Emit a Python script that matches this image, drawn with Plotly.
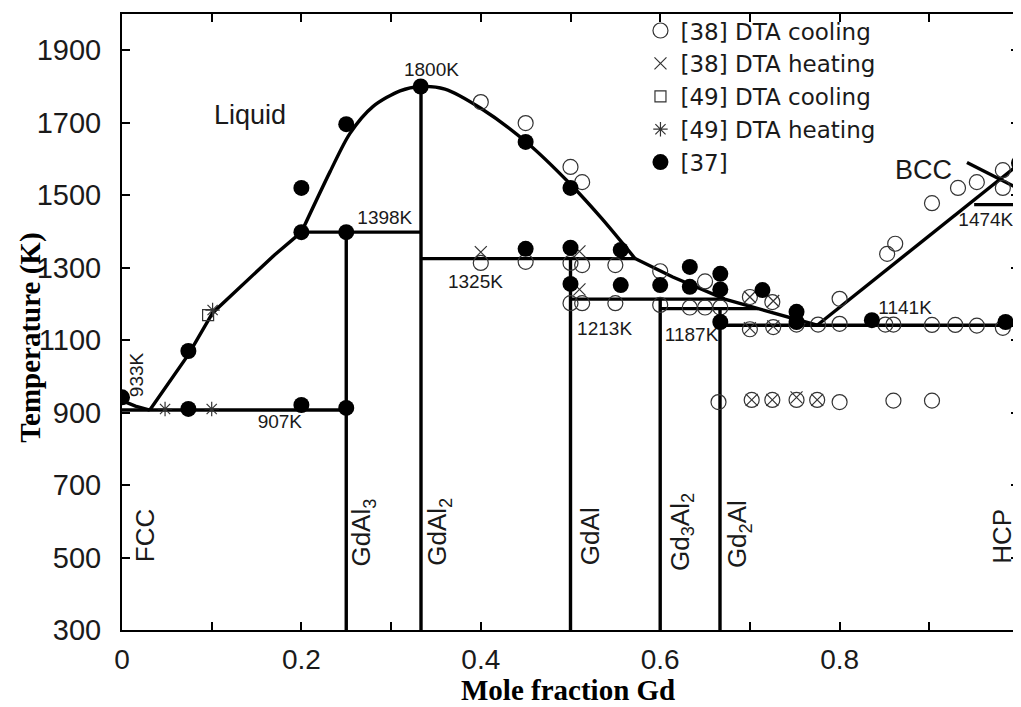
import plotly.graph_objects as go

# ---------------- phase boundary data (mole fraction Gd, temperature K) ----------------
FCC_LIQ_X = [0.0, 0.015, 0.031]
FCC_LIQ_T = [933, 918, 907]
LIQ_A_X = [0.031, 0.074, 0.101, 0.143, 0.17, 0.2]
LIQ_A_T = [907, 1060, 1175, 1272, 1335, 1398]
LIQ_B_X = [0.2, 0.232, 0.254, 0.28, 0.31, 0.333, 0.36, 0.4, 0.45, 0.5, 0.535, 0.572]
LIQ_B_T = [1398, 1565, 1670, 1745, 1788, 1800, 1793, 1740, 1648, 1530, 1435, 1325]
LIQ_C_X = [0.572, 0.614, 0.672, 0.709, 0.775]
LIQ_C_T = [1325, 1274, 1213, 1187, 1141]
LIQ_BCC_X = [0.775, 1.0]
LIQ_BCC_T = [1141, 1586]
BCC_SOL_X = [0.942, 0.998]
BCC_SOL_T = [1590, 1520]
HCP_X = [0.9965, 0.9965, 0.998, 1.0, 1.0]
HCP_T = [1586, 1141, 900, 650, 300]

# invariant (horizontal) lines
INV_T = [907, 1398, 1325, 1213, 1187, 1141, 1474]
INV_X0 = [0.0, 0.2, 0.333, 0.5, 0.6, 0.667, 0.95]
INV_X1 = [0.25, 0.333, 0.572, 0.672, 0.709, 0.997, 0.997]

# stoichiometric compounds (vertical lines)
CMP_X = [0.25, 1 / 3, 0.5, 0.6, 2 / 3]
CMP_TOP = [1398, 1800, 1325, 1213, 1187]
T_MIN = 300

# ---------------- experimental data ----------------
# [38] DTA cooling
C38_X = [0.4, 0.45, 0.5, 0.513,
         0.4, 0.45, 0.5, 0.513, 0.55, 0.6, 0.65,
         0.5, 0.513, 0.55, 0.6,
         0.633, 0.65, 0.667,
         0.7, 0.725,
         0.7, 0.726, 0.752, 0.776, 0.8, 0.851, 0.86, 0.903, 0.929, 0.953, 0.982,
         0.8, 0.853, 0.862, 0.903, 0.932, 0.953, 0.982, 0.982,
         0.665, 0.702, 0.725, 0.752, 0.775, 0.8, 0.86, 0.903]
C38_T = [1757, 1699, 1578, 1536,
         1313, 1316, 1313, 1307, 1307, 1290, 1262,
         1202, 1202, 1202, 1197,
         1190, 1190, 1190,
         1219, 1205,
         1130, 1136, 1143, 1143, 1145, 1143, 1143, 1142, 1142, 1140, 1134,
         1214, 1338, 1366, 1478, 1520, 1536, 1569, 1520,
         929, 935, 935, 935, 935, 929, 933, 933]
# [38] DTA heating
H38_X = [0.4, 0.51, 0.51, 0.7, 0.726, 0.7, 0.726, 0.702, 0.725, 0.752, 0.775]
H38_T = [1343, 1345, 1240, 1219, 1208, 1133, 1138, 935, 935, 942, 935]
# [49] DTA cooling
C49_X = [0.096]
C49_T = [1169]
# [49] DTA heating
H49_X = [0.101, 0.048, 0.1]
H49_T = [1183, 910, 910]
# [37]
D37_X = [0.0, 0.074, 0.074, 0.2, 0.2, 0.2, 0.25, 0.25, 0.25, 0.333, 0.45, 0.45, 0.5, 0.5,
         0.5, 0.556, 0.556, 0.6, 0.633, 0.633, 0.667, 0.667, 0.667, 0.714, 0.752, 0.752,
         0.836, 0.985, 1.0]
D37_T = [942, 1070, 910, 1520, 1398, 921, 1696, 1398, 913, 1800, 1647, 1352, 1520, 1355,
         1255, 1349, 1252, 1252, 1302, 1247, 1283, 1240, 1150, 1238, 1178, 1150,
         1155, 1150, 1589]

# ---------------- labels ----------------
# horizontal temperature labels (drawn beneath the phase lines)
TLBL_TEXT = ["1800K", "1398K", "1325K", "1213K", "1187K", "1141K", "1474K", "907K"]
TLBL_X = [0.345, 0.293, 0.394, 0.538, 0.635, 0.873, 0.963, 0.176]
TLBL_T = [1843, 1433, 1257, 1128, 1112, 1185, 1429, 871]
TLBL_SIZE = 19
# other labels (annotations)
LBL_TEXT = ["Liquid", "933K", "BCC", "FCC", "GdAl<sub>3</sub>", "GdAl<sub>2</sub>", "GdAl",
            "Gd<sub>3</sub>Al<sub>2</sub>", "Gd<sub>2</sub>Al", "HCP"]
LBL_X = [0.143, 0.017, 0.893, 0.025, 0.268, 0.353, 0.521, 0.623, 0.688, 0.981]
LBL_T = [1721, 1004, 1569, 560, 570, 570, 560, 570, 565, 560]
LBL_ANGLE = [0, -90, 0, -90, -90, -90, -90, -90, -90, -90]
LBL_SIZE = [27, 19, 27, 26, 26, 26, 26, 26, 26, 26]

X_TICKS = [0, 0.2, 0.4, 0.6, 0.8, 1.0]
X_TICKTEXT = ["0", "0.2", "0.4", "0.6", "0.8", "1"]
Y_TICKS = [300, 500, 700, 900, 1100, 1300, 1500, 1700, 1900]

SANS = "Liberation Sans, Arial, sans-serif"
SERIF = "Liberation Serif, Times New Roman, serif"
TXT_COL = "#1a1a1a"

fig = go.Figure()

fig.add_trace(go.Scatter(x=TLBL_X, y=TLBL_T, text=TLBL_TEXT, mode="text",
                         textfont=dict(family=SANS, size=TLBL_SIZE, color=TXT_COL),
                         showlegend=False, hoverinfo="skip", cliponaxis=False))

# straight phase boundaries combined with None separators
lx, ly = [], []
for xs, ts in [(FCC_LIQ_X, FCC_LIQ_T), (LIQ_A_X, LIQ_A_T), (LIQ_C_X, LIQ_C_T),
               (LIQ_BCC_X, LIQ_BCC_T), (BCC_SOL_X, BCC_SOL_T), (HCP_X, HCP_T)]:
    lx += list(xs) + [None]
    ly += list(ts) + [None]
for t, x0, x1 in zip(INV_T, INV_X0, INV_X1):
    lx += [x0, x1, None]
    ly += [t, t, None]
for x, top in zip(CMP_X, CMP_TOP):
    lx += [x, x, None]
    ly += [T_MIN, top, None]

fig.add_trace(go.Scatter(x=lx, y=ly, mode="lines", line=dict(color="black", width=3.4),
                         showlegend=False, hoverinfo="skip"))
fig.add_trace(go.Scatter(x=LIQ_B_X, y=LIQ_B_T, mode="lines",
                         line=dict(color="black", width=3.4, shape="spline", smoothing=0.8),
                         showlegend=False, hoverinfo="skip"))

mk_col = "#333333"
fig.add_trace(go.Scatter(x=C38_X, y=C38_T, mode="markers", name="[38] DTA cooling",
                         marker=dict(symbol="circle-open", size=15, color=mk_col,
                                     line=dict(width=1.2))))
fig.add_trace(go.Scatter(x=H38_X, y=H38_T, mode="markers", name="[38] DTA heating",
                         marker=dict(symbol="x-thin-open", size=12, color=mk_col,
                                     line=dict(width=1.2))))
fig.add_trace(go.Scatter(x=C49_X, y=C49_T, mode="markers", name="[49] DTA cooling",
                         marker=dict(symbol="square-open", size=11, color=mk_col,
                                     line=dict(width=1.2))))
fig.add_trace(go.Scatter(x=H49_X, y=H49_T, mode="markers", name="[49] DTA heating",
                         marker=dict(symbol="asterisk-open", size=12, color=mk_col,
                                     line=dict(width=1.2))))
fig.add_trace(go.Scatter(x=D37_X, y=D37_T, mode="markers", name="[37]",
                         marker=dict(symbol="circle", size=16, color="black")))

annotations = []
for txt, x, t, ang, sz in zip(LBL_TEXT, LBL_X, LBL_T, LBL_ANGLE, LBL_SIZE):
    annotations.append(dict(text=txt, x=x, y=t, xref="x", yref="y", showarrow=False,
                            textangle=ang, font=dict(family=SANS, size=sz, color=TXT_COL)))
annotations.append(dict(text="<b>Temperature (K)</b>", x=-0.103, y=0.474, xref="paper",
                        yref="paper", showarrow=False, textangle=-90, xanchor="center",
                        yanchor="middle", font=dict(family=SERIF, size=29, color="black")))
annotations.append(dict(text="<b>Mole fraction Gd</b>", x=0.497, y=-0.097, xref="paper",
                        yref="paper", showarrow=False, xanchor="center", yanchor="middle",
                        borderpad=0, font=dict(family=SERIF, size=29, color="black")))

# the page body adds an 8 px offset, so the figure is sized to fit the 1021x707 window
fig.update_layout(
    width=1013, height=699,
    margin=dict(l=114, r=2, t=6, b=77, autoexpand=False),
    paper_bgcolor="white", plot_bgcolor="white",
    showlegend=True,
    legend=dict(x=0.578, y=1.008, xanchor="left", yanchor="top",
                bgcolor="rgba(0,0,0,0)", borderwidth=0,
                font=dict(family="DejaVu Sans, sans-serif", size=23, color=TXT_COL),
                itemwidth=30, tracegroupgap=0),
    annotations=annotations,
)
fig.update_xaxes(range=[0, 1], tickvals=X_TICKS, ticktext=X_TICKTEXT,
                 ticks="inside", ticklen=8, tickwidth=1.5, tickcolor="black",
                 minor=dict(dtick=0.1, tick0=0, ticks="inside", ticklen=8, tickwidth=1.5,
                            tickcolor="black", showgrid=False),
                 showline=True, linecolor="black", linewidth=2, mirror="ticks",
                 showgrid=False, zeroline=False, ticklabelstandoff=3,
                 tickfont=dict(family=SANS, size=28, color=TXT_COL))
fig.update_yaxes(range=[300, 2000], tickvals=Y_TICKS,
                 ticks="inside", ticklen=8, tickwidth=1.5, tickcolor="black",
                 showline=True, linecolor="black", linewidth=2, mirror="ticks",
                 showgrid=False, zeroline=False, ticklabelstandoff=13,
                 tickfont=dict(family=SANS, size=29, color=TXT_COL))

fig.write_html("out.html")
